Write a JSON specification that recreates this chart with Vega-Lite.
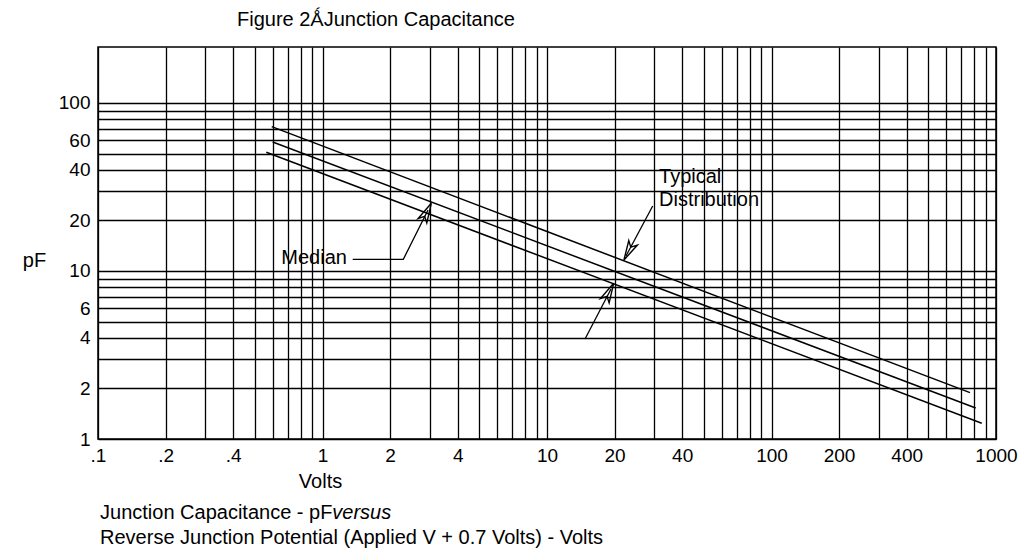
{
  "$schema": "https://vega.github.io/schema/vega-lite/v6.json",
  "autosize": {"type": "none"},
  "padding": {"left": 98, "top": 47, "right": 26, "bottom": 111},
  "width": 898,
  "height": 392,
  "background": "white",
  "config": {
    "font": "Liberation Sans",
    "view": {"stroke": "black", "strokeWidth": 1.5},
    "axis": {
      "gridColor": "black", "gridOpacity": 1, "gridWidth": 1.3,
      "domain": false, "ticks": false,
      "labelColor": "black", "labelFont": "Liberation Sans", "labelFontSize": 19,
      "titleFont": "Liberation Sans", "titleFontWeight": "normal", "titleFontSize": 20, "titleColor": "black"
    }
  },
  "title": {
    "text": "Figure 2ǺJunction Capacitance",
    "anchor": "start", "frame": "group", "dx": 139, "offset": 17,
    "font": "Liberation Sans", "fontSize": 20, "fontWeight": "normal", "color": "black"
  },
  "datasets": {
    "curves": [
      {"series": "upper", "v": 0.594, "pf": 72.3},
      {"series": "upper", "v": 766, "pf": 1.887},
      {"series": "median", "v": 0.600, "pf": 58.6},
      {"series": "median", "v": 812, "pf": 1.529},
      {"series": "lower", "v": 0.562, "pf": 50.9},
      {"series": "lower", "v": 864, "pf": 1.24}
    ],
    "leaders": [
      {"grp": "median", "ord": 1, "v": 1.363, "pf": 11.74},
      {"grp": "median", "ord": 2, "v": 2.291, "pf": 11.74},
      {"grp": "median", "ord": 3, "v": 2.951, "pf": 23.07},
      {"grp": "typical", "ord": 1, "v": 29.57, "pf": 24.37},
      {"grp": "typical", "ord": 2, "v": 22.48, "pf": 12.29},
      {"grp": "lowerarrow", "ord": 1, "v": 14.77, "pf": 3.937},
      {"grp": "lowerarrow", "ord": 2, "v": 19.28, "pf": 7.814}
    ],
    "headsUp": [
      {"arrow": "median", "v": 2.917, "pf": 22.45},
      {"arrow": "lowerarrow", "v": 18.93, "pf": 7.499}
    ],
    "headsDown": [
      {"arrow": "typical", "v": 23.07, "pf": 13.08}
    ],
    "labels": [
      {"label": "Median", "v": 1.285, "pf": 11.95}
    ],
    "labels2": [
      {"label": "Typical\nDistribution", "v": 31.55, "pf": 41.5}
    ],
    "notes": [
      {"label": "Junction Capacitance - pF", "v": 0.1021, "pf": 0.3627},
      {"label": "Reverse Junction Potential (Applied V + 0.7 Volts) - Volts", "v": 0.1021, "pf": 0.2560}
    ],
    "notesItalic": [
      {"label": "versus", "v": 1.106, "pf": 0.3627}
    ]
  },
  "layer": [
    {
      "data": {"name": "curves"},
      "mark": {"type": "line", "color": "black", "strokeWidth": 1.5},
      "encoding": {
        "x": {
          "field": "v", "type": "quantitative",
          "scale": {"type": "log", "domain": [0.1, 1000], "nice": false},
          "axis": {
            "values": [0.1,0.2,0.3,0.4,0.5,0.6,0.7,0.8,0.9,1,2,3,4,5,6,7,8,9,10,20,30,40,50,60,70,80,90,100,200,300,400,500,600,700,800,900,1000],
            "grid": true, "labelOverlap": false, "labelFlush": false, "labelBound": false, "labelPadding": 7,
            "labelExpr": "datum.value == 0.1 ? '.1' : datum.value == 0.2 ? '.2' : datum.value == 0.4 ? '.4' : indexof([1,2,4,10,20,40,100,200,400,1000], datum.value) >= 0 ? format(datum.value, 'd') : ''",
            "title": "Volts", "titleX": 222, "titleY": 48, "titleBaseline": "alphabetic"
          }
        },
        "y": {
          "field": "pf", "type": "quantitative",
          "scale": {"type": "log", "domain": [1, 215.4], "nice": false},
          "axis": {
            "values": [1,2,3,4,5,6,7,8,9,10,20,30,40,50,60,70,80,90,100],
            "grid": true, "labelOverlap": false, "labelFlush": false, "labelBound": false, "labelPadding": 8,
            "labelExpr": "indexof([1,2,4,6,10,20,40,60,100], datum.value) >= 0 ? format(datum.value, 'd') : ''",
            "title": "pF", "titleAngle": 0, "titleX": -64, "titleY": 213, "titleAlign": "center", "titleBaseline": "middle"
          }
        },
        "detail": {"field": "series"}
      }
    },
    {
      "data": {"name": "leaders"},
      "mark": {"type": "line", "color": "black", "strokeWidth": 1.3},
      "encoding": {
        "x": {"field": "v", "type": "quantitative"},
        "y": {"field": "pf", "type": "quantitative"},
        "detail": {"field": "grp"},
        "order": {"field": "ord"}
      }
    },
    {
      "data": {"name": "headsUp"},
      "mark": {"type": "point", "shape": "M0,-1L0.5,1L0,0.5L-0.5,1Z", "size": 380, "angle": 27, "filled": false, "stroke": "black", "strokeWidth": 1.4, "opacity": 1},
      "encoding": {
        "x": {"field": "v", "type": "quantitative"},
        "y": {"field": "pf", "type": "quantitative"}
      }
    },
    {
      "data": {"name": "headsDown"},
      "mark": {"type": "point", "shape": "M0,-1L0.5,1L0,0.5L-0.5,1Z", "size": 380, "angle": 208, "filled": false, "stroke": "black", "strokeWidth": 1.4, "opacity": 1},
      "encoding": {
        "x": {"field": "v", "type": "quantitative"},
        "y": {"field": "pf", "type": "quantitative"}
      }
    },
    {
      "data": {"name": "labels"},
      "mark": {"type": "text", "align": "right", "baseline": "middle", "fontSize": 20, "font": "Liberation Sans", "color": "black"},
      "encoding": {
        "x": {"field": "v", "type": "quantitative"},
        "y": {"field": "pf", "type": "quantitative"},
        "text": {"field": "label"}
      }
    },
    {
      "data": {"name": "labels2"},
      "mark": {"type": "text", "align": "left", "baseline": "top", "fontSize": 20, "font": "Liberation Sans", "color": "black", "lineBreak": "\n", "lineHeight": 23},
      "encoding": {
        "x": {"field": "v", "type": "quantitative"},
        "y": {"field": "pf", "type": "quantitative"},
        "text": {"field": "label"}
      }
    },
    {
      "data": {"name": "notes"},
      "mark": {"type": "text", "align": "left", "baseline": "middle", "fontSize": 20, "font": "Liberation Sans", "color": "black"},
      "encoding": {
        "x": {"field": "v", "type": "quantitative"},
        "y": {"field": "pf", "type": "quantitative"},
        "text": {"field": "label"}
      }
    },
    {
      "data": {"name": "notesItalic"},
      "mark": {"type": "text", "align": "left", "baseline": "middle", "fontSize": 20, "font": "Liberation Sans", "fontStyle": "italic", "color": "black"},
      "encoding": {
        "x": {"field": "v", "type": "quantitative"},
        "y": {"field": "pf", "type": "quantitative"},
        "text": {"field": "label"}
      }
    }
  ]
}
